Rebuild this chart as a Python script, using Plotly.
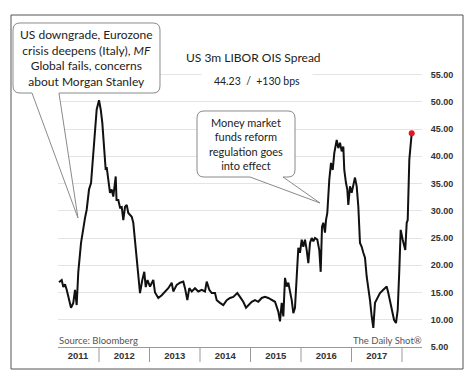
import plotly.graph_objects as go

# ---------------- data ----------------
dates_decimal = [
    2011.208, 2011.261, 2011.293, 2011.327, 2011.360, 2011.406, 2011.446, 2011.491, 2011.525, 2011.558,
    2011.590, 2011.644, 2011.689, 2011.723, 2011.756, 2011.802, 2011.842, 2011.887, 2011.921, 2011.954,
    2012.000, 2012.034, 2012.065, 2012.105, 2012.133, 2012.152, 2012.184, 2012.218, 2012.251, 2012.283,
    2012.331, 2012.347, 2012.382, 2012.416, 2012.450, 2012.481, 2012.515, 2012.549, 2012.580, 2012.648,
    2012.679, 2012.713, 2012.747, 2012.778, 2012.812, 2012.857, 2012.897, 2012.925, 2012.960, 2013.010,
    2013.055, 2013.075, 2013.109, 2013.174, 2013.242, 2013.307, 2013.372, 2013.440, 2013.471, 2013.539,
    2013.604, 2013.669, 2013.703, 2013.749, 2013.788, 2013.836, 2013.901, 2013.966, 2014.034, 2014.099,
    2014.133, 2014.184, 2014.232, 2014.297, 2014.331, 2014.396, 2014.461, 2014.529, 2014.594, 2014.659,
    2014.739, 2014.792, 2014.857, 2014.911, 2014.956, 2015.024, 2015.089, 2015.154, 2015.222, 2015.287,
    2015.352, 2015.420, 2015.485, 2015.550, 2015.584, 2015.618, 2015.650, 2015.683, 2015.717, 2015.749,
    2015.782, 2015.816, 2015.848, 2015.881, 2015.915, 2015.947, 2015.980, 2016.014, 2016.046, 2016.079,
    2016.113, 2016.145, 2016.178, 2016.212, 2016.244, 2016.277, 2016.323, 2016.362, 2016.390, 2016.416,
    2016.442, 2016.475, 2016.495, 2016.521, 2016.560, 2016.594, 2016.628, 2016.659, 2016.707, 2016.739,
    2016.772, 2016.806, 2016.838, 2016.857, 2016.891, 2016.917, 2016.937, 2016.970, 2017.004, 2017.036,
    2017.069, 2017.103, 2017.135, 2017.168, 2017.202, 2017.234, 2017.267, 2017.301, 2017.333, 2017.366,
    2017.400, 2017.432, 2017.465, 2017.511, 2017.564, 2017.630, 2017.697, 2017.729, 2017.762, 2017.796,
    2017.842, 2017.881, 2017.915, 2017.947, 2017.974, 2018.014, 2018.046, 2018.065, 2018.093, 2018.113,
    2018.145, 2018.178, 2018.192,
]
spread_bps = [
    16.9, 17.3, 16.0, 16.5, 15.5, 13.6, 12.2, 13.1, 15.5, 12.7,
    18.8, 24.1, 27.1, 28.7, 30.2, 33.9, 35.1, 39.9, 44.9, 48.6,
    50.3, 48.6, 46.2, 39.9, 37.5, 38.0, 35.7, 33.3, 33.9, 32.6,
    36.3, 32.0, 32.0, 30.6, 30.7, 28.3, 30.7, 31.1, 29.6, 28.9,
    27.8, 24.1, 21.0, 17.9, 14.9, 17.3, 18.8, 16.0, 17.3, 16.1,
    16.9, 17.3, 15.0, 14.0, 14.5, 15.2, 15.8, 16.8, 15.2, 16.4,
    16.8, 17.0, 15.8, 13.6, 15.8, 15.2, 15.8, 15.2, 15.5, 15.2,
    17.0, 15.5, 14.9, 14.9, 13.6, 13.1, 12.7, 13.6, 14.0, 14.2,
    14.9, 14.2, 13.3, 12.2, 12.7, 13.3, 13.6, 13.3, 14.0, 14.2,
    14.0, 13.6, 13.3, 11.5, 9.7, 13.1, 10.6, 17.7, 16.1, 16.8,
    15.2, 13.6, 11.2, 12.2, 17.9, 23.2, 22.3, 24.7, 23.4, 24.7,
    22.8, 20.4, 24.1, 25.0, 24.4, 25.0, 24.7, 22.8, 18.8, 27.1,
    27.8, 26.0, 28.3, 29.6, 35.7, 38.8, 37.5, 40.6, 43.0, 41.5,
    42.5, 40.9, 41.8, 37.5, 35.1, 33.9, 31.1, 34.5, 33.3, 34.8,
    36.1, 34.5, 30.8, 24.1, 23.4, 22.3, 21.4, 17.9, 16.1, 13.6,
    10.6, 8.5, 13.1, 14.0, 14.9, 15.5, 16.1, 14.9, 13.3, 11.5,
    10.0, 9.4, 11.8, 19.2, 26.5, 24.7, 23.4, 22.8, 27.8, 28.3,
    39.4, 43.7, 44.23,
]
year_labels = ["2011", "2012", "2013", "2014", "2015", "2016", "2017"]
year_label_pos = [2011.584, 2012.5, 2013.5, 2014.5, 2015.5, 2016.5, 2017.5]
year_boundaries = [2012, 2013, 2014, 2015, 2016, 2017, 2018]

title_text = "US 3m LIBOR OIS Spread"
subtitle_text = "44.23  /  +130 bps"
callout1_text = "US downgrade, Eurozone<br>crisis deepens (Italy), <i>MF</i><br>Global fails, concerns<br>about Morgan Stanley"
callout2_text = "Money market<br>funds reform<br>regulation goes<br>into effect"

# ---------------- layout geometry ----------------
W, H = 472, 377
ML, MR, MT, MB = 58, 50, 61, 30
PW, PH = W - ML - MR, H - MT - MB


def px(x):
    return (x - ML) / PW


def py(y):
    return (H - MB - y) / PH


def callout_path(x0, y0, x1, y1, r, bx0, bx1, tx, ty):
    pts = []
    pts.append("M %.4f,%.4f" % (px(x0 + r), py(y0)))
    pts.append("L %.4f,%.4f" % (px(x1 - r), py(y0)))
    pts.append("Q %.4f,%.4f %.4f,%.4f" % (px(x1), py(y0), px(x1), py(y0 + r)))
    pts.append("L %.4f,%.4f" % (px(x1), py(y1 - r)))
    pts.append("Q %.4f,%.4f %.4f,%.4f" % (px(x1), py(y1), px(x1 - r), py(y1)))
    pts.append("L %.4f,%.4f" % (px(bx1), py(y1)))
    pts.append("L %.4f,%.4f" % (px(tx), py(ty)))
    pts.append("L %.4f,%.4f" % (px(bx0), py(y1)))
    pts.append("L %.4f,%.4f" % (px(x0 + r), py(y1)))
    pts.append("Q %.4f,%.4f %.4f,%.4f" % (px(x0), py(y1), px(x0), py(y1 - r)))
    pts.append("L %.4f,%.4f" % (px(x0), py(y0 + r)))
    pts.append("Q %.4f,%.4f %.4f,%.4f Z" % (px(x0), py(y0), px(x0 + r), py(y0)))
    return " ".join(pts)


fig = go.Figure()
fig.add_trace(go.Scatter(
    x=dates_decimal, y=spread_bps, mode="lines",
    line=dict(color="#111111", width=2), hoverinfo="skip", showlegend=False,
))
fig.add_trace(go.Scatter(
    x=[dates_decimal[-1]], y=[spread_bps[-1]], mode="markers",
    marker=dict(color="#e8141b", size=6), hoverinfo="skip", showlegend=False,
))

shapes = []
# outer frame
shapes.append(dict(type="rect", xref="paper", yref="paper",
                   x0=px(11), x1=px(463), y0=py(369), y1=py(15),
                   line=dict(color="#555555", width=1), fillcolor="rgba(0,0,0,0)", layer="above"))
# year dividers
for b in year_boundaries:
    shapes.append(dict(type="line", xref="x", yref="paper", x0=b, x1=b,
                       y0=0, y1=py(362), line=dict(color="#999999", width=1)))
# callouts
shapes.append(dict(type="path", xref="paper", yref="paper",
                   path=callout_path(13, 23, 160, 93, 7, 32, 59, 78, 218),
                   fillcolor="white", line=dict(color="#8a8a8a", width=1), layer="above"))
shapes.append(dict(type="path", xref="paper", yref="paper",
                   path=callout_path(197, 111, 295, 177, 7, 250, 283, 320, 203),
                   fillcolor="white", line=dict(color="#8a8a8a", width=1), layer="above"))


def note(text, x, y, size, xanchor="center", color="#222222", **kw):
    return dict(text=text, xref="paper", yref="paper", x=px(x), y=py(y),
                xanchor=xanchor, yanchor="middle", showarrow=False, align="center",
                font=dict(family="Lato", size=size, color=color), **kw)


annotations = [
    note(title_text, 253, 57, 12),
    note(subtitle_text, 257, 81, 10.5, bgcolor="white", width=108, height=16),
    note(callout1_text, 86, 58, 12),
    note(callout2_text, 246, 144, 11),
    note("Source: Bloomberg", 57, 340, 9.5, xanchor="left", color="#555555"),
    note("The Daily Shot®", 424, 340, 9.5, xanchor="right", color="#555555"),
]

fig.update_layout(
    width=W, height=H,
    margin=dict(l=ML, r=MR, t=MT, b=MB, autoexpand=False),
    paper_bgcolor="white", plot_bgcolor="white",
    shapes=shapes, annotations=annotations,
    xaxis=dict(range=[2011.188, 2018.396], showgrid=False, zeroline=False, automargin=False,
               tickmode="array", tickvals=year_label_pos, ticktext=year_labels,
               ticks="", tickfont=dict(family="Liberation Sans", size=9.5, color="#333333", weight="bold"),
               showline=True, linecolor="#999999", linewidth=1),
    yaxis=dict(range=[5, 57.5], side="right", dtick=5, tick0=5, tickformat=".2f", automargin=False,
               showgrid=True, gridcolor="#e4e4e4", gridwidth=1, zeroline=False,
               ticks="outside", ticklen=6, tickcolor="rgba(0,0,0,0)",
               tickfont=dict(family="Liberation Sans", size=9, color="#333333", weight="bold"),
               showline=False),
)

fig.write_html(
    "out.html",
    config={"displayModeBar": False, "staticPlot": True},
    post_script="document.body.style.margin='0';document.body.style.overflow='hidden';",
)
